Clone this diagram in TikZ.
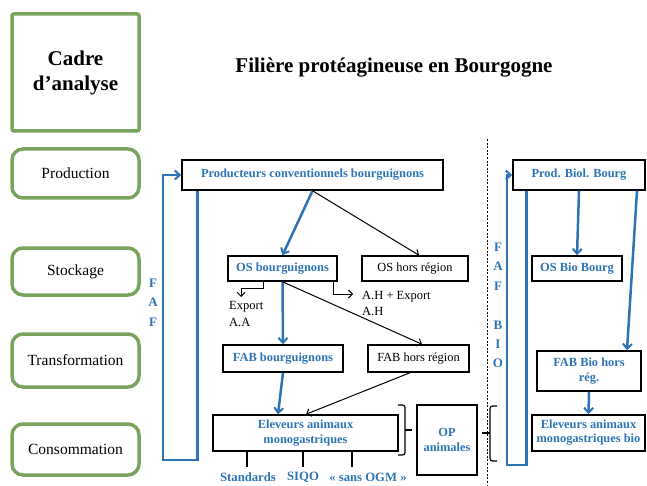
\documentclass[tikz,border=0pt]{standalone}
\usepackage{fontspec}
\setmainfont{Liberation Serif}
\usetikzlibrary{arrows.meta,calc}
\definecolor{fblue}{RGB}{46,116,181}
\definecolor{fgreen}{RGB}{122,164,94}
\begin{document}
\begin{tikzpicture}[x=1pt,y=-1pt,
  cadrebox/.style={draw=fgreen,line width=3.5pt,rounded corners=2pt,inner sep=0pt,font=\fontsize{21}{25}\selectfont\bfseries,align=center},
  levelbox/.style={draw=fgreen,line width=3.5pt,rounded corners=11pt,inner sep=0pt,minimum width=127pt,font=\fontsize{15.5}{18}\selectfont},
  bbox/.style={draw=black,line width=1.5pt,inner sep=0pt,align=center,font=\fontsize{12.4}{15}\selectfont\bfseries,text=fblue},
  nbox/.style={draw=black,line width=1.5pt,inner sep=0pt,align=center,font=\fontsize{12.4}{15}\selectfont},
  bluearrow/.style={draw=fblue,line width=2.5pt,-{Straight Barb[length=5pt,width=9pt,line width=2pt]}},
  blackarrow/.style={draw=black,line width=1pt,-{Straight Barb[length=4pt,width=8pt]}},
  txt/.style={inner sep=0pt,font=\fontsize{12.5}{14}\selectfont,align=left},
  btxt/.style={inner sep=0pt,font=\fontsize{12.7}{14}\selectfont\bfseries,text=fblue},
  letters/.style={inner sep=0pt,align=center,font=\fontsize{13}{19.4}\selectfont\bfseries,text=fblue},
  bracket/.style={draw=black,line width=1.2pt,rounded corners=2.5pt}
]
\useasboundingbox (0,0) rectangle (647,486);

% left column
\node[cadrebox,minimum width=127pt,minimum height=117pt] (cadre) at (75.5,72.5) {Cadre\\d'analyse};
\node[levelbox,minimum height=49pt] (lprod) at (75.5,173.5) {Production};
\node[levelbox,minimum height=47pt] (lstock) at (75.5,271.5) {Stockage};
\node[levelbox,minimum height=53pt] (ltrans) at (75.5,360.5) {Transformation};
\node[levelbox,minimum height=51pt] (lconso) at (75.5,449.5) {Consommation};

% title
\node[inner sep=0pt,font=\fontsize{21}{25}\selectfont\bfseries] (title) at (394,68) {Filière protéagineuse en Bourgogne};

% conventional chain
\node[bbox,minimum width=261pt,minimum height=30pt] (pcb) at (312.5,175) {Producteurs conventionnels bourguignons};
\node[bbox,minimum width=109pt,minimum height=25pt] (osb) at (282.5,268.5) {OS bourguignons};
\node[nbox,minimum width=106pt,minimum height=25pt] (oshr) at (415,268.5) {OS hors région};
\node[bbox,minimum width=120pt,minimum height=27pt] (fabb) at (283,358.5) {FAB bourguignons};
\node[nbox,minimum width=101pt,minimum height=27pt] (fabhr) at (418.5,358.5) {FAB hors région};
\node[bbox,minimum width=185pt,minimum height=36pt] (elev) at (305.5,433) {Eleveurs animaux\\monogastriques};
\node[bbox,minimum width=60pt,minimum height=70pt] (op) at (447,440) {OP\\animales};

% bio chain
\node[bbox,minimum width=132pt,minimum height=30pt] (pbb) at (579,175) {Prod. Biol. Bourg};
\node[bbox,minimum width=90pt,minimum height=25pt] (osbio) at (577,268.5) {OS Bio Bourg};
\node[bbox,minimum width=104pt,minimum height=40pt] (fabbio) at (589,371) {FAB Bio hors\\rég.};
\node[bbox,minimum width=113pt,minimum height=36pt,font=\fontsize{12.4}{14}\selectfont\bfseries] (elevbio) at (588.5,433) {Eleveurs animaux\\monogastriques bio};

% text labels
\node[txt,anchor=west] (export) at (229,307) {Export};
\node[txt,anchor=west] (aa) at (229,322) {A.A};
\node[txt,anchor=west] (ahexp) at (362,297) {A.H + Export};
\node[txt,anchor=west] (ah) at (362,311) {A.H};
\node[btxt] (std) at (248,477) {Standards};
\node[btxt] (siqo) at (303,477) {SIQO};
\node[btxt] (ogm) at (368,477) {« sans OGM »};
\node[letters] (faf) at (153,302.5) {F\\A\\F};
\node[letters] (fafbio) at (498,305.5) {F\\A\\F\\[0pt]\strut\\B\\I\\O};

% coordinates
\coordinate (faf1) at (163,460);
\coordinate (bio1) at (507,465);
\coordinate (expend) at (241,297);
\coordinate (ahend) at (353,294);
\coordinate (dtop) at (487,139);
\coordinate (dbot) at (487,486);

% dashed separator
\draw[line width=0.9pt,dash pattern=on 2pt off 1.6pt] (dtop) -- (dbot);

% FAF loops
\draw[bluearrow] ([xshift=16pt]pcb.south west) |- (faf1) |- (pcb.west);
\draw[bluearrow] ([xshift=14pt]pbb.south west) |- (bio1) |- (pbb.west);

% conventional arrows
\draw[bluearrow] (pcb.south) -- (osb.north);
\draw[blackarrow] (pcb.south) -- ([xshift=4pt]oshr.north);
\draw[bluearrow] (osb.south) -- (fabb.north);
\draw[blackarrow] (osb.south) -- ([xshift=3.5pt]fabhr.north);
\draw[blackarrow] ([xshift=-19.5pt]osb.south) -- ++(0,7) -| (expend);
\draw[blackarrow] ([xshift=50.5pt]osb.south) |- (ahend);
\draw[bluearrow] (fabb.south) -- ([xshift=-27.5pt]elev.north);
\draw[blackarrow] ([xshift=-8.5pt]fabhr.south) -- ([xshift=0.5pt]elev.north);

% ticks below Eleveurs
\draw[line width=1.2pt] ([xshift=-58.5pt]elev.south) -- ++(0,15);
\draw[line width=1.2pt] ([xshift=-2.5pt]elev.south) -- ++(0,15);
\draw[line width=1.2pt] ([xshift=46.5pt]elev.south) -- ++(0,15);

% brackets
\draw[bracket] (398,405) -- (405,405) -- (405,455) -- (398,455);
\draw[line width=1.2pt] (405,430) -- ([xshift=-4pt]op.west |- 0,430);
\draw[bracket] (497,406) -- (490,406) -- (490,461) -- (497,461);
\draw[line width=1.2pt] (490,433) -- (482,433);

% bio arrows
\draw[bluearrow] (pbb.south) -- (osbio.north);
\draw[bluearrow] ([xshift=58pt]pbb.south) -- ([xshift=38pt]fabbio.north);
\draw[bluearrow] (fabbio.south) -- (elevbio.north);
\end{tikzpicture}
\end{document}
